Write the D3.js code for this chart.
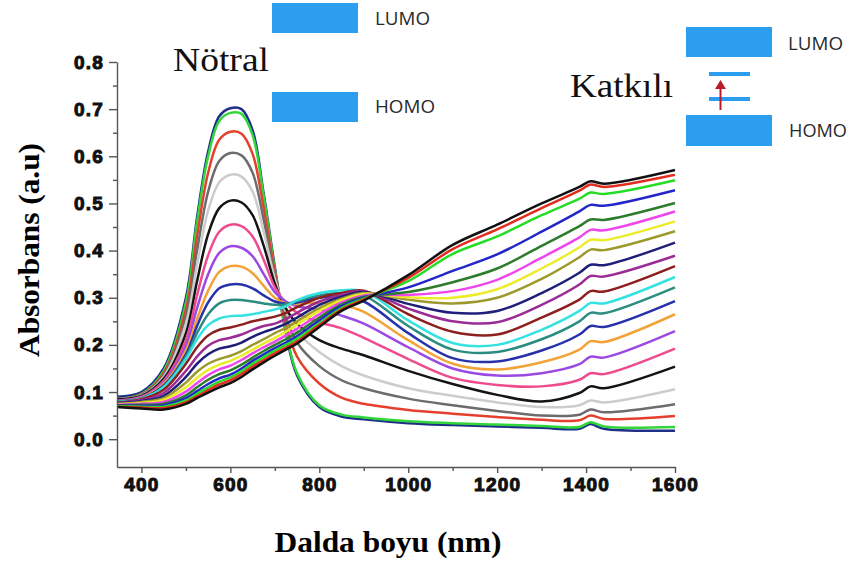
<!DOCTYPE html>
<html>
<head>
<meta charset="utf-8">
<script src="https://cdn.jsdelivr.net/npm/d3@7/dist/d3.min.js"></script>
<style>
  html, body { margin: 0; padding: 0; background: #fff; }
  svg { display: block; }
</style>
</head>
<body>
<svg id="chart" width="852" height="562"></svg>
<script>
// wavelength grid (nm) shared by every spectrum
const wavelengths = [345, 400, 450, 500, 525, 550, 575, 600, 625, 650, 675, 700, 725, 750, 800, 850, 900, 1000, 1100, 1200, 1300, 1385, 1410, 1440, 1600];

// absorbance spectra, neutral -> fully doped
const s00 = [0.090, 0.100, 0.150, 0.300, 0.470, 0.610, 0.685, 0.702, 0.700, 0.655, 0.520, 0.365, 0.225, 0.135, 0.068, 0.048, 0.042, 0.034, 0.030, 0.027, 0.024, 0.022, 0.032, 0.022, 0.018];
const s01 = [0.085, 0.096, 0.145, 0.290, 0.460, 0.600, 0.675, 0.692, 0.690, 0.645, 0.515, 0.360, 0.230, 0.140, 0.072, 0.052, 0.046, 0.038, 0.034, 0.031, 0.028, 0.026, 0.036, 0.027, 0.026];
const s02 = [0.085, 0.095, 0.140, 0.275, 0.430, 0.565, 0.635, 0.652, 0.648, 0.605, 0.490, 0.355, 0.245, 0.175, 0.118, 0.088, 0.075, 0.062, 0.054, 0.047, 0.041, 0.040, 0.050, 0.043, 0.049];
const s03 = [0.085, 0.094, 0.136, 0.260, 0.400, 0.525, 0.590, 0.607, 0.602, 0.565, 0.465, 0.345, 0.260, 0.205, 0.155, 0.125, 0.108, 0.086, 0.072, 0.060, 0.050, 0.052, 0.063, 0.057, 0.074];
const s04 = [0.085, 0.093, 0.132, 0.245, 0.370, 0.485, 0.545, 0.561, 0.557, 0.525, 0.440, 0.340, 0.270, 0.228, 0.185, 0.155, 0.135, 0.108, 0.092, 0.078, 0.068, 0.072, 0.082, 0.078, 0.106];
const s05 = [0.085, 0.092, 0.128, 0.225, 0.335, 0.435, 0.490, 0.506, 0.502, 0.475, 0.410, 0.330, 0.277, 0.245, 0.210, 0.192, 0.178, 0.145, 0.117, 0.094, 0.080, 0.098, 0.112, 0.108, 0.154];
const s06 = [0.082, 0.090, 0.124, 0.210, 0.305, 0.390, 0.440, 0.455, 0.452, 0.430, 0.380, 0.322, 0.288, 0.268, 0.248, 0.235, 0.215, 0.170, 0.130, 0.115, 0.112, 0.126, 0.140, 0.138, 0.192];
const s07 = [0.082, 0.089, 0.120, 0.198, 0.278, 0.350, 0.395, 0.409, 0.406, 0.388, 0.350, 0.312, 0.292, 0.282, 0.275, 0.262, 0.245, 0.195, 0.150, 0.135, 0.140, 0.159, 0.175, 0.173, 0.229];
const s08 = [0.080, 0.088, 0.117, 0.188, 0.255, 0.315, 0.355, 0.367, 0.366, 0.352, 0.325, 0.300, 0.288, 0.287, 0.290, 0.285, 0.270, 0.210, 0.160, 0.148, 0.163, 0.190, 0.208, 0.206, 0.265];
const s09 = [0.080, 0.087, 0.114, 0.180, 0.240, 0.290, 0.320, 0.328, 0.328, 0.320, 0.305, 0.292, 0.287, 0.290, 0.300, 0.302, 0.292, 0.225, 0.172, 0.165, 0.188, 0.222, 0.240, 0.238, 0.293];
const s10 = [0.080, 0.086, 0.112, 0.175, 0.225, 0.265, 0.288, 0.295, 0.295, 0.292, 0.288, 0.285, 0.286, 0.293, 0.305, 0.310, 0.305, 0.240, 0.190, 0.185, 0.212, 0.250, 0.268, 0.267, 0.322];
const s11 = [0.079, 0.086, 0.110, 0.170, 0.212, 0.242, 0.256, 0.261, 0.262, 0.265, 0.270, 0.275, 0.282, 0.295, 0.310, 0.316, 0.314, 0.252, 0.204, 0.200, 0.232, 0.272, 0.289, 0.288, 0.344];
const s12 = [0.078, 0.085, 0.105, 0.160, 0.195, 0.220, 0.232, 0.237, 0.243, 0.250, 0.255, 0.260, 0.268, 0.280, 0.300, 0.310, 0.315, 0.265, 0.228, 0.222, 0.258, 0.296, 0.314, 0.313, 0.367];
const s13 = [0.077, 0.083, 0.098, 0.145, 0.175, 0.198, 0.210, 0.215, 0.222, 0.232, 0.240, 0.245, 0.255, 0.268, 0.292, 0.306, 0.314, 0.277, 0.250, 0.248, 0.285, 0.328, 0.346, 0.345, 0.389];
const s14 = [0.076, 0.081, 0.092, 0.132, 0.160, 0.180, 0.192, 0.197, 0.205, 0.217, 0.227, 0.235, 0.245, 0.258, 0.285, 0.302, 0.312, 0.287, 0.268, 0.272, 0.310, 0.353, 0.370, 0.369, 0.417];
const s15 = [0.075, 0.079, 0.087, 0.120, 0.143, 0.160, 0.170, 0.177, 0.187, 0.200, 0.212, 0.225, 0.236, 0.250, 0.278, 0.298, 0.310, 0.296, 0.288, 0.300, 0.340, 0.386, 0.402, 0.401, 0.441];
const s16 = [0.074, 0.077, 0.083, 0.110, 0.130, 0.147, 0.158, 0.166, 0.177, 0.190, 0.203, 0.215, 0.228, 0.243, 0.272, 0.295, 0.308, 0.301, 0.300, 0.318, 0.362, 0.407, 0.423, 0.422, 0.462];
const s17 = [0.073, 0.075, 0.079, 0.101, 0.119, 0.136, 0.148, 0.156, 0.168, 0.182, 0.195, 0.207, 0.220, 0.234, 0.265, 0.290, 0.305, 0.306, 0.314, 0.338, 0.385, 0.428, 0.444, 0.443, 0.483];
const s18 = [0.072, 0.073, 0.075, 0.093, 0.110, 0.126, 0.138, 0.146, 0.158, 0.173, 0.187, 0.200, 0.212, 0.226, 0.258, 0.286, 0.302, 0.312, 0.333, 0.362, 0.410, 0.452, 0.466, 0.465, 0.501];
const s19 = [0.071, 0.071, 0.072, 0.087, 0.102, 0.117, 0.129, 0.137, 0.150, 0.166, 0.180, 0.193, 0.205, 0.219, 0.252, 0.282, 0.300, 0.322, 0.357, 0.392, 0.440, 0.483, 0.497, 0.495, 0.528];
const s20 = [0.070, 0.069, 0.069, 0.082, 0.096, 0.110, 0.122, 0.131, 0.144, 0.160, 0.174, 0.188, 0.200, 0.213, 0.246, 0.278, 0.298, 0.335, 0.393, 0.430, 0.475, 0.510, 0.523, 0.520, 0.549];
const s21 = [0.069, 0.067, 0.066, 0.078, 0.091, 0.104, 0.116, 0.125, 0.138, 0.154, 0.168, 0.182, 0.194, 0.207, 0.242, 0.275, 0.296, 0.342, 0.403, 0.445, 0.490, 0.527, 0.540, 0.535, 0.561];
const s22 = [0.068, 0.065, 0.063, 0.075, 0.087, 0.099, 0.110, 0.119, 0.132, 0.148, 0.163, 0.177, 0.190, 0.203, 0.238, 0.272, 0.294, 0.348, 0.412, 0.455, 0.500, 0.535, 0.547, 0.542, 0.571];

const spectra = [s00, s01, s02, s03, s04, s05, s06, s07, s08, s09, s10, s11, s12, s13, s14, s15, s16, s17, s18, s19, s20, s21, s22];
const lineColors = ["#1d2f86", "#33d63a", "#e5402e", "#6c6c6c", "#cccccc", "#141414", "#ee4b8e", "#9c48e2", "#f2a236", "#2631aa",
                    "#2b8c80", "#35e2e2", "#8e1f1f", "#9b2c95", "#1f1f7a", "#9c9a2c", "#ecec28", "#ee45ec", "#2c7c2c", "#2427c8",
                    "#26dc26", "#e22c1e", "#111111"];

const xMajor = [400, 600, 800, 1000, 1200, 1400, 1600];
const xMinor = [500, 700, 900, 1100, 1300, 1500];
const yMajor = [0, 0.1, 0.2, 0.3, 0.4, 0.5, 0.6, 0.7, 0.8];
const yMinor = [0.05, 0.15, 0.25, 0.35, 0.45, 0.55, 0.65, 0.75];

const svg = d3.select("#chart");

const x = d3.scaleLinear().domain([345, 1600]).range([117, 675]);
const y = d3.scaleLinear().domain([-0.059, 0.8]).range([467, 62]);

// spectra
const line = d3.line()
    .x((d, i) => x(wavelengths[i]))
    .y(d => y(d))
    .curve(d3.curveCatmullRom.alpha(0.5));

svg.append("g")
    .selectAll("path")
    .data(spectra)
    .join("path")
    .attr("d", line)
    .attr("fill", "none")
    .attr("stroke", (d, i) => lineColors[i])
    .attr("stroke-width", 2.5)
    .attr("stroke-linejoin", "round");

// axes
const axisColor = "#555";
const tickFont = "'Liberation Sans', Arial, sans-serif";

const gx = svg.append("g").attr("transform", "translate(0,467)");
gx.call(d3.axisBottom(x).tickValues(xMajor).tickSize(6).tickSizeOuter(0).tickPadding(5).tickFormat(d3.format("d")));
gx.append("g").call(d3.axisBottom(x).tickValues(xMinor).tickSize(4).tickFormat(""))
    .select(".domain").remove();

const gy = svg.append("g").attr("transform", "translate(117,0)");
gy.call(d3.axisLeft(y).tickValues(yMajor).tickSize(8).tickSizeOuter(0).tickPadding(5).tickFormat(d3.format(".1f")));
gy.append("g").call(d3.axisLeft(y).tickValues(yMinor).tickSize(4).tickFormat(""))
    .select(".domain").remove();

svg.selectAll(".domain, .tick line").attr("stroke", axisColor).attr("stroke-width", 1.4);
svg.selectAll(".tick text")
    .attr("fill", "#111")
    .attr("font-family", tickFont)
    .attr("font-weight", "bold")
    .attr("font-size", 19)
    .attr("stroke", "#111")
    .attr("stroke-width", 1)
    .attr("letter-spacing", 1.2);

// axis titles
svg.append("text")
    .attr("x", 388).attr("y", 552)
    .attr("text-anchor", "middle")
    .attr("font-family", "'Liberation Serif', 'Times New Roman', serif")
    .attr("font-weight", "bold").attr("font-size", 30)
    .attr("textLength", 227).attr("lengthAdjust", "spacingAndGlyphs")
    .text("Dalda boyu (nm)");

svg.append("text")
    .attr("transform", "translate(39,250) rotate(-90)")
    .attr("text-anchor", "middle")
    .attr("font-family", "'Liberation Serif', 'Times New Roman', serif")
    .attr("font-weight", "bold").attr("font-size", 30)
    .attr("textLength", 214).attr("lengthAdjust", "spacingAndGlyphs")
    .text("Absorbans (a.u)");

// band diagrams
const bandBlue = "#2b9ef0";
const serif = "'Liberation Serif', 'Times New Roman', serif";
const sans = "'Open Sans', 'Noto Sans', sans-serif";

svg.append("text").attr("x", 173).attr("y", 71)
    .attr("font-family", serif).attr("font-size", 34)
    .attr("textLength", 96).attr("lengthAdjust", "spacingAndGlyphs")
    .attr("fill", "#111").text("Nötral");

svg.append("rect").attr("x", 272).attr("y", 3).attr("width", 86).attr("height", 30).attr("fill", bandBlue);
svg.append("rect").attr("x", 272).attr("y", 92).attr("width", 86).attr("height", 30).attr("fill", bandBlue);
svg.append("text").attr("x", 375).attr("y", 25).attr("font-family", sans).attr("font-size", 19)
    .attr("textLength", 55).attr("lengthAdjust", "spacingAndGlyphs").attr("fill", "#2a2a2a").text("LUMO");
svg.append("text").attr("x", 375).attr("y", 113).attr("font-family", sans).attr("font-size", 19)
    .attr("textLength", 60).attr("lengthAdjust", "spacingAndGlyphs").attr("fill", "#2a2a2a").text("HOMO");

svg.append("text").attr("x", 570).attr("y", 97)
    .attr("font-family", serif).attr("font-size", 34)
    .attr("textLength", 103).attr("lengthAdjust", "spacingAndGlyphs")
    .attr("fill", "#111").text("Katkılı");

svg.append("rect").attr("x", 686).attr("y", 27).attr("width", 86).attr("height", 30).attr("fill", bandBlue);
svg.append("rect").attr("x", 686).attr("y", 115).attr("width", 86).attr("height", 31).attr("fill", bandBlue);
svg.append("rect").attr("x", 709).attr("y", 72).attr("width", 41).attr("height", 4).attr("fill", bandBlue);
svg.append("rect").attr("x", 709).attr("y", 97).attr("width", 41).attr("height", 4).attr("fill", bandBlue);
svg.append("line").attr("x1", 720.5).attr("y1", 110).attr("x2", 720.5).attr("y2", 86)
    .attr("stroke", "#b81a2a").attr("stroke-width", 2);
svg.append("path").attr("d", "M715,89 L720.5,80 L726,89 Z")
    .attr("fill", "#b81a2a");
svg.append("text").attr("x", 788).attr("y", 50).attr("font-family", sans).attr("font-size", 19)
    .attr("textLength", 55).attr("lengthAdjust", "spacingAndGlyphs").attr("fill", "#2a2a2a").text("LUMO");
svg.append("text").attr("x", 789).attr("y", 137).attr("font-family", sans).attr("font-size", 19)
    .attr("textLength", 58).attr("lengthAdjust", "spacingAndGlyphs").attr("fill", "#2a2a2a").text("HOMO");
</script>
</body>
</html>
